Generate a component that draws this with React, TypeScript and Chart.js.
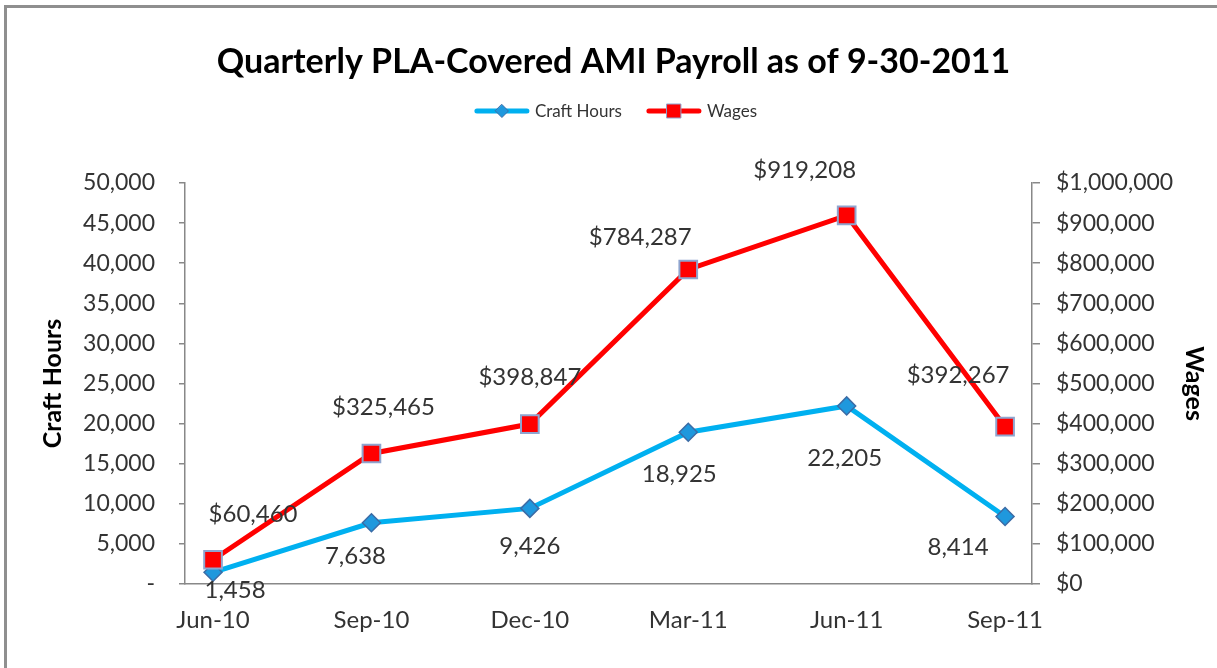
import React, { useEffect, useRef } from 'react';
import { Chart, registerables } from 'chart.js';

Chart.register(...registerables);

// ---------- data ----------
const categories = ['Jun-10', 'Sep-10', 'Dec-10', 'Mar-11', 'Jun-11', 'Sep-11'];
const craftHours = [1458, 7638, 9426, 18925, 22205, 8414];
const wages = [60460, 325465, 398847, 784287, 919208, 392267];
const leftTickValues = [0, 5000, 10000, 15000, 20000, 25000, 30000, 35000, 40000, 45000, 50000];
const rightTickValues = [0, 100000, 200000, 300000, 400000, 500000, 600000, 700000, 800000, 900000, 1000000];
const seriesNames = ['Craft Hours', 'Wages'];
const chartTitle = 'Quarterly PLA-Covered AMI Payroll as of 9-30-2011';
const leftAxisTitle = 'Craft Hours';
const rightAxisTitle = 'Wages';

// ---------- styling ----------
const FONT = 'Lato, "Open Sans", sans-serif';
const TEXT = '#333333';
const AXIS = '#888888';
const CRAFT_LINE = '#00b0f0';
const CRAFT_FILL = '#1f98dd';
const CRAFT_EDGE = '#3b6ca6';
const WAGE_LINE = '#ff0000';
const WAGE_FILL = '#ff0000';
const WAGE_EDGE = '#8fa5cf';

// data-label placement relative to each point (px), mimicking the original
const craftLabelShift: [number, number][] = [[22, 18], [-16, 34], [0, 38], [-9, 42], [-2, 52], [-47, 31]];
const wageLabelShift: [number, number][] = [[40, -45], [12, -46], [0, -47], [-48, -32], [-42, -45], [-47, -51]];

const fmtNum = (v: number) => v.toLocaleString('en-US');
const fmtMoney = (v: number) => '$' + v.toLocaleString('en-US');

const decorPlugin = {
  id: 'decor',
  afterDatasetsDraw(chart: any) {
    const ctx = chart.ctx as CanvasRenderingContext2D;
    ctx.save();
    // data labels
    ctx.font = `24px ${FONT}`;
    ctx.fillStyle = TEXT;
    ctx.textAlign = 'center';
    ctx.textBaseline = 'middle';
    chart.data.datasets.forEach((ds: any, di: number) => {
      const meta = chart.getDatasetMeta(di);
      const isWage = ds.label === seriesNames[1];
      const shifts = isWage ? wageLabelShift : craftLabelShift;
      meta.data.forEach((pt: any, i: number) => {
        const v = isWage ? wages[i] : craftHours[i];
        const [dx, dy] = shifts[i];
        ctx.fillText(isWage ? fmtMoney(v) : fmtNum(v), pt.x + dx, pt.y + dy);
      });
    });
    ctx.restore();
  },
  afterDraw(chart: any) {
    const ctx = chart.ctx as CanvasRenderingContext2D;
    const W = chart.width;
    ctx.save();
    // title
    ctx.font = `bold 34px ${FONT}`;
    ctx.fillStyle = '#000000';
    ctx.textAlign = 'center';
    ctx.textBaseline = 'middle';
    ctx.fillText(chartTitle, W / 2 + 5, 62);

    // legend
    ctx.font = `17px ${FONT}`;
    const lineLen = 54;
    const gapText = 6;
    const gapItem = 25;
    const w0 = ctx.measureText(seriesNames[0]).width;
    const w1 = ctx.measureText(seriesNames[1]).width;
    const total = lineLen + gapText + w0 + gapItem + lineLen + gapText + w1;
    let x = 616 - total / 2;
    const y = 111;
    const items = [
      { name: seriesNames[0], line: CRAFT_LINE, fill: CRAFT_FILL, edge: CRAFT_EDGE, diamond: true, w: w0 },
      { name: seriesNames[1], line: WAGE_LINE, fill: WAGE_FILL, edge: WAGE_EDGE, diamond: false, w: w1 },
    ];
    items.forEach((it) => {
      ctx.strokeStyle = it.line;
      ctx.lineWidth = 5;
      ctx.lineCap = 'round';
      ctx.beginPath();
      ctx.moveTo(x + 2, y);
      ctx.lineTo(x + lineLen - 2, y);
      ctx.stroke();
      const cx = x + lineLen / 2;
      ctx.fillStyle = it.fill;
      ctx.strokeStyle = it.edge;
      ctx.lineWidth = 1;
      ctx.beginPath();
      if (it.diamond) {
        const r = 6.5;
        ctx.moveTo(cx, y - r);
        ctx.lineTo(cx + r, y);
        ctx.lineTo(cx, y + r);
        ctx.lineTo(cx - r, y);
        ctx.closePath();
      } else {
        ctx.rect(cx - 7, y - 7, 14, 14);
      }
      ctx.fill();
      ctx.stroke();
      ctx.fillStyle = TEXT;
      ctx.textAlign = 'left';
      ctx.textBaseline = 'middle';
      ctx.fillText(it.name, x + lineLen + gapText, y + 1);
      x += lineLen + gapText + it.w + gapItem;
    });
    ctx.restore();
  },
};

export default function App() {
  const canvasRef = useRef<HTMLCanvasElement | null>(null);

  useEffect(() => {
    document.body.style.margin = '0';
    document.body.style.overflow = 'hidden';
    const canvas = canvasRef.current;
    if (!canvas) return;
    const chart = new Chart(canvas, {
      type: 'line',
      data: {
        datasets: [
          {
            label: seriesNames[0],
            data: categories.map((_, i) => ({ x: i, y: craftHours[i] })),
            yAxisID: 'y',
            borderColor: CRAFT_LINE,
            backgroundColor: CRAFT_FILL,
            borderWidth: 5,
            tension: 0,
            pointStyle: 'rectRot',
            pointRadius: 9,
            pointBackgroundColor: CRAFT_FILL,
            pointBorderColor: CRAFT_EDGE,
            pointBorderWidth: 1.5,
            order: 1,
          },
          {
            label: seriesNames[1],
            data: categories.map((_, i) => ({ x: i, y: wages[i] })),
            yAxisID: 'y1',
            borderColor: WAGE_LINE,
            backgroundColor: WAGE_FILL,
            borderWidth: 5,
            tension: 0,
            pointStyle: 'rect',
            pointRadius: 12.5,
            pointBackgroundColor: WAGE_FILL,
            pointBorderColor: WAGE_EDGE,
            pointBorderWidth: 2,
            order: 0,
          },
        ],
      },
      options: {
        responsive: false,
        animation: false,
        devicePixelRatio: 1,
        layout: { padding: { top: 183, left: 0, right: 0, bottom: 0 } },
        plugins: {
          legend: { display: false },
          title: { display: false },
          tooltip: { enabled: false },
        },
        scales: {
          x: {
            type: 'linear',
            min: -0.177,
            max: 5.17,
            grid: { display: false },
            border: { display: true, color: AXIS, width: 1.5 },
            afterBuildTicks: (axis: any) => {
              axis.ticks = categories.map((_, i) => ({ value: i }));
            },
            afterFit: (axis: any) => {
              axis.height = 84;
            },
            ticks: {
              autoSkip: false,
              maxRotation: 0,
              padding: 14,
              color: TEXT,
              font: { family: FONT, size: 24 },
              callback: (v: any) => categories[Math.round(Number(v))] ?? '',
            },
          },
          y: {
            position: 'left',
            min: 0,
            max: 50000,
            afterBuildTicks: (axis: any) => {
              axis.ticks = leftTickValues.map((v) => ({ value: v }));
            },
            afterFit: (axis: any) => {
              axis.width = 185;
            },
            grid: { display: true, drawOnChartArea: false, drawTicks: true, tickLength: 6, color: AXIS, lineWidth: 1.5 },
            border: { display: true, color: AXIS, width: 1.5 },
            ticks: {
              padding: 24,
              color: TEXT,
              font: { family: FONT, size: 23 },
              callback: (v: any) => (Number(v) === 0 ? '-' : fmtNum(Number(v))),
            },
            title: {
              display: true,
              text: leftAxisTitle,
              color: '#000000',
              font: { family: FONT, size: 25, weight: 'bold' },
              padding: { top: 38, bottom: 0 },
            },
          },
          y1: {
            position: 'right',
            min: 0,
            max: 1000000,
            afterBuildTicks: (axis: any) => {
              axis.ticks = rightTickValues.map((v) => ({ value: v }));
            },
            afterFit: (axis: any) => {
              axis.width = 185;
            },
            grid: { display: true, drawOnChartArea: false, drawTicks: true, tickLength: 8, color: AXIS, lineWidth: 1.5 },
            border: { display: true, color: AXIS, width: 1.5 },
            ticks: {
              padding: 16,
              color: TEXT,
              font: { family: FONT, size: 23 },
              callback: (v: any) => fmtMoney(Number(v)),
            },
            title: {
              display: true,
              text: rightAxisTitle,
              color: '#000000',
              font: { family: FONT, size: 25, weight: 'bold' },
              padding: { top: 8, bottom: 0 },
            },
          },
        },
      },
      plugins: [decorPlugin],
    } as any);
    return () => chart.destroy();
  }, []);

  return (
    <div style={{ position: 'fixed', left: 0, top: 0, width: 1217, height: 668, overflow: 'hidden', background: '#ffffff' }}>
      <div
        style={{
          position: 'absolute',
          left: 4,
          top: 5,
          width: 1400,
          height: 900,
          border: '3px solid #8f8f8f',
          boxSizing: 'border-box',
        }}
      />
      <canvas ref={canvasRef} width={1217} height={668} style={{ position: 'absolute', left: 0, top: 0 }} />
    </div>
  );
}
